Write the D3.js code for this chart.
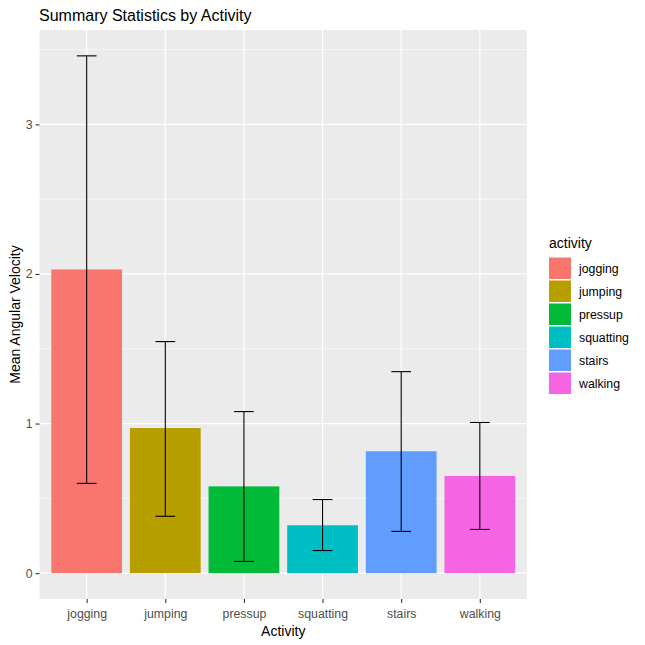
<!DOCTYPE html>
<html>
<head>
<meta charset="utf-8">
<script src="https://cdn.jsdelivr.net/npm/d3@7"></script>
<style>
  body { margin: 0; background: #fff; }
  svg { display: block; font-family: "Liberation Sans", Arial, sans-serif; }
</style>
</head>
<body>
<svg id="chart" width="645" height="645"></svg>
<script>
var ACTIVITIES = ['jogging', 'jumping', 'pressup', 'squatting', 'stairs', 'walking'];
var MEANS = [2.03, 0.97, 0.58, 0.32, 0.815, 0.65];
var LOWER = [0.60, 0.38, 0.078, 0.151, 0.279, 0.292];
var UPPER = [3.458, 1.548, 1.08, 0.492, 1.347, 1.007];
var COLOURS = ['#F8766D', '#B79F00', '#00BA38', '#00BFC4', '#619CFF', '#F564E3'];
var Y_TICKS = [0, 1, 2, 3];
var Y_MINOR = [0.5, 1.5, 2.5, 3.5];

var PANEL = {left: 39.5, right: 527, top: 30, bottom: 599};

var svg = d3.select('#chart');

var x = d3.scaleLinear().domain([0.4, 6.6]).range([PANEL.left, PANEL.right]);
var y = d3.scaleLinear().domain([-0.1729, 3.6309]).range([PANEL.bottom, PANEL.top]);
var colour = d3.scaleOrdinal().domain(ACTIVITIES).range(COLOURS);

var data = ACTIVITIES.map(function(a, i){
  return {activity: a, pos: i + 1, mean: MEANS[i], lo: LOWER[i], hi: UPPER[i]};
});

// panel background + grid
svg.append('rect')
  .attr('x', PANEL.left).attr('y', PANEL.top)
  .attr('width', PANEL.right - PANEL.left).attr('height', PANEL.bottom - PANEL.top)
  .attr('fill', '#EBEBEB');

svg.selectAll('line.minor').data(Y_MINOR).enter().append('line')
  .attr('class', 'minor')
  .attr('x1', PANEL.left).attr('x2', PANEL.right)
  .attr('y1', function(d){ return y(d); }).attr('y2', function(d){ return y(d); })
  .attr('stroke', '#fff').attr('stroke-width', 0.6);

svg.selectAll('line.majory').data(Y_TICKS).enter().append('line')
  .attr('class', 'majory')
  .attr('x1', PANEL.left).attr('x2', PANEL.right)
  .attr('y1', function(d){ return y(d); }).attr('y2', function(d){ return y(d); })
  .attr('stroke', '#fff').attr('stroke-width', 1.2);

svg.selectAll('line.majorx').data(data).enter().append('line')
  .attr('class', 'majorx')
  .attr('y1', PANEL.top).attr('y2', PANEL.bottom)
  .attr('x1', function(d){ return x(d.pos); }).attr('x2', function(d){ return x(d.pos); })
  .attr('stroke', '#fff').attr('stroke-width', 1.2);

// bars
svg.selectAll('rect.bar').data(data).enter().append('rect')
  .attr('class', 'bar')
  .attr('x', function(d){ return x(d.pos - 0.45); })
  .attr('width', x(0.9) - x(0))
  .attr('y', function(d){ return y(d.mean); })
  .attr('height', function(d){ return y(0) - y(d.mean); })
  .attr('fill', function(d){ return colour(d.activity); });

// error bars
var err = svg.selectAll('g.err').data(data).enter().append('g').attr('class', 'err')
  .attr('stroke', '#000').attr('stroke-width', 1.1);
err.append('line')
  .attr('x1', function(d){ return x(d.pos); }).attr('x2', function(d){ return x(d.pos); })
  .attr('y1', function(d){ return y(d.lo); }).attr('y2', function(d){ return y(d.hi); });
err.append('line')
  .attr('x1', function(d){ return x(d.pos - 0.125); }).attr('x2', function(d){ return x(d.pos + 0.125); })
  .attr('y1', function(d){ return y(d.hi); }).attr('y2', function(d){ return y(d.hi); });
err.append('line')
  .attr('x1', function(d){ return x(d.pos - 0.125); }).attr('x2', function(d){ return x(d.pos + 0.125); })
  .attr('y1', function(d){ return y(d.lo); }).attr('y2', function(d){ return y(d.lo); });

// axes
var yAxis = d3.axisLeft(y).tickValues(Y_TICKS).tickSize(4).tickPadding(3).tickFormat(d3.format('d'));
var gy = svg.append('g').attr('transform', 'translate(' + PANEL.left + ',0)').call(yAxis);
var xAxis = d3.axisBottom(x).tickValues(data.map(function(d){ return d.pos; })).tickSize(4).tickPadding(4)
  .tickFormat(function(d){ return ACTIVITIES[d - 1]; });
var gx = svg.append('g').attr('transform', 'translate(0,' + PANEL.bottom + ')').call(xAxis);

[gx, gy].forEach(function(g){
  g.select('.domain').remove();
  g.selectAll('.tick line').attr('stroke', '#333').attr('stroke-width', 1.1);
  g.selectAll('.tick text').attr('fill', '#4D4D4D').style('font-size', '12.3px');
});
gx.selectAll('.tick text').attr('dy', '0.9em');

// titles
svg.append('text').attr('x', 39).attr('y', 21)
  .style('font-size', '16px').attr('fill', '#000').text('Summary Statistics by Activity');
svg.append('text').attr('x', (PANEL.left + PANEL.right) / 2).attr('y', 636)
  .attr('text-anchor', 'middle').style('font-size', '14px').attr('fill', '#000').text('Activity');
svg.append('text').attr('transform', 'translate(20,' + (PANEL.top + PANEL.bottom) / 2 + ') rotate(-90)')
  .attr('text-anchor', 'middle').style('font-size', '14px').attr('fill', '#000').text('Mean Angular Velocity');

// legend
var legend = svg.append('g').attr('transform', 'translate(549,0)');
legend.append('text').attr('x', 0).attr('y', 248).style('font-size', '14px').attr('fill', '#000').text('activity');
var key = legend.selectAll('g.key').data(ACTIVITIES).enter().append('g').attr('class', 'key')
  .attr('transform', function(d, i){ return 'translate(0,' + (257.5 + i * 23) + ')'; });
key.append('rect').attr('width', 22).attr('height', 21.5).attr('fill', function(d){ return colour(d); });
key.append('text').attr('x', 30).attr('y', 15.5).style('font-size', '12.3px').attr('fill', '#000').text(function(d){ return d; });
</script>
</body>
</html>
